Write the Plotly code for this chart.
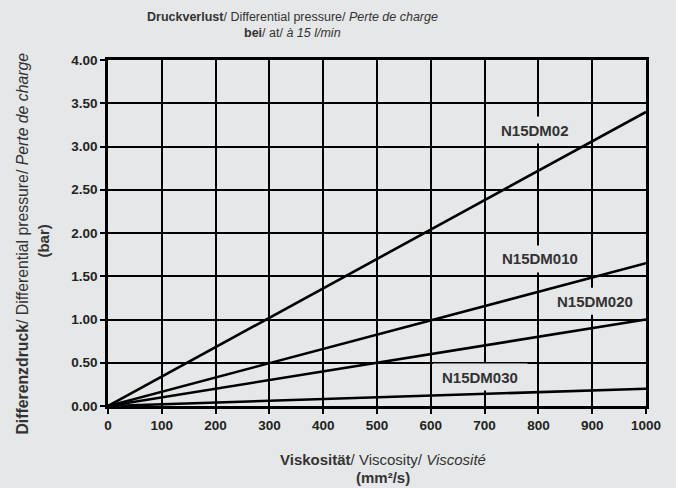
import plotly.graph_objects as go

viscosity = [0, 1000]
series_names = ["N15DM02", "N15DM010", "N15DM020", "N15DM030"]
series_values = {
    "N15DM02": [0, 3.40],
    "N15DM010": [0, 1.65],
    "N15DM020": [0, 1.00],
    "N15DM030": [0, 0.20],
}
label_pos = {
    "N15DM02": (794, 3.19),
    "N15DM010": (803, 1.70),
    "N15DM020": (905, 1.21),
    "N15DM030": (692, 0.335),
}
x_ticks = list(range(0, 1001, 100))
y_ticks = [0, 0.5, 1.0, 1.5, 2.0, 2.5, 3.0, 3.5, 4.0]
y_ticklabels = [f"{v:.2f}" for v in y_ticks]

BG = "#e6e7e8"
FONT = "Liberation Sans, Arial, sans-serif"

W, H = 676, 488
L, R, T, B = 107.5, 30, 60, 82
PW, PH = W - L - R, H - T - B


def px2paper(px, py):
    return (px - L) / PW, (H - B - py) / PH


fig = go.Figure()
for name in series_names:
    fig.add_trace(go.Scatter(x=viscosity, y=series_values[name], mode="lines",
                             line=dict(color="black", width=2.6), name=name,
                             showlegend=False, hoverinfo="skip"))

for name in series_names:
    lx, ly = label_pos[name]
    half_w = 4 + 5.4 * len(name)
    # background box hiding grid lines but staying below the data lines
    fig.add_shape(type="rect", layer="between", xref="x", yref="y",
                  xsizemode="pixel", ysizemode="pixel", xanchor=lx, yanchor=ly,
                  x0=-half_w, x1=half_w, y0=-13.5, y1=13.5,
                  fillcolor=BG, line=dict(width=0))
    fig.add_annotation(x=lx, y=ly, xref="x", yref="y", text=f"<b>{name}</b>",
                       showarrow=False,
                       font=dict(family=FONT, size=15, color="#333333"))

fig.update_layout(
    width=W, height=H,
    paper_bgcolor=BG, plot_bgcolor=BG,
    margin=dict(l=L, r=R, t=T, b=B, pad=0),
    font=dict(family=FONT, color="#222222"),
)

axis_common = dict(showgrid=True, gridcolor="black", gridwidth=2,
                   showline=True, linecolor="black", linewidth=2.5, mirror=True,
                   ticks="outside", ticklen=5, tickwidth=2, tickcolor="black",
                   tickfont=dict(family=FONT, size=13.5, color="#222222", weight="bold"),
                   zeroline=False)
fig.update_xaxes(range=[0, 1000], tickvals=x_ticks,
                 ticktext=[str(v) for v in x_ticks], **axis_common)
fig.update_yaxes(range=[0, 4], tickvals=y_ticks, ticktext=y_ticklabels,
                 **axis_common)


def add_text(px, py, text, size, angle=0):
    x, y = px2paper(px, py)
    fig.add_annotation(x=x, y=y, xref="paper", yref="paper",
                       xanchor="center", yanchor="middle", showarrow=False,
                       textangle=angle, text=text,
                       font=dict(family=FONT, size=size, color="#333333"))


add_text(292, 17, "<b>Druckverlust</b>/ Differential pressure/ <i>Perte de charge</i>", 12.5)
add_text(292, 33, "<b>bei</b>/ at/ <i>à 15 l/min</i>", 12.5)
add_text(383, 459, "<b>Viskosität</b>/ Viscosity/ <i>Viscosité</i>", 15)
add_text(383, 477, "<b>(mm²/s)</b>", 15)
add_text(22, 244, "<b>Differenzdruck</b>/ Differential pressure/ <i>Perte de charge</i>", 15.8, -90)
add_text(42, 241, "<b>(bar)</b>", 15, -90)

fig.write_html("out.html", config={"displayModeBar": False},
               post_script="document.body.style.margin='0';document.body.style.overflow='hidden';")
